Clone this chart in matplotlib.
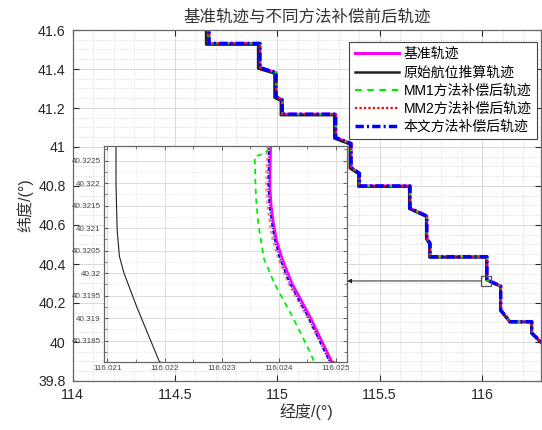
import numpy as np
import matplotlib
matplotlib.use('Agg')
import matplotlib.pyplot as plt
from matplotlib.patches import Rectangle
from matplotlib.ticker import MultipleLocator, FuncFormatter

plt.rcParams['font.family'] = ['Liberation Sans', 'Noto Sans CJK SC', 'DejaVu Sans']

# 轨迹转折点（经度, 纬度），放大框之前的公共部分
track_lon_top = [114.666, 114.666, 114.915, 114.915, 114.994, 114.994, 115.024, 115.024,
                 115.285, 115.285, 115.360, 115.360, 115.401, 115.401, 115.648, 115.648,
                 115.730, 115.730, 115.746, 115.746, 116.0238]
track_lat_top = [41.65, 41.531, 41.531, 41.407, 41.381, 41.258, 41.241, 41.168,
                 41.168, 41.048, 41.018, 40.895, 40.865, 40.800, 40.800, 40.686,
                 40.646, 40.532, 40.506, 40.437, 40.437]
# 放大框之后的部分
track_lon_tail = [116.091, 116.091, 116.137, 116.243, 116.243, 116.293, 116.342]
track_lat_tail = [40.287, 40.164, 40.104, 40.104, 40.046, 39.995, 39.944]

# 原始航位推算轨迹
dr_lon_top = [114.652, 114.652, 114.906, 114.906, 114.986, 114.986, 115.017, 115.017,
              115.278, 115.278, 115.354, 115.354, 115.396, 115.396, 115.644, 115.644,
              115.727, 115.727, 115.743, 115.743, 116.02115]
dr_lat_top = [41.65, 41.525, 41.525, 41.402, 41.377, 41.253, 41.237, 41.163,
              41.163, 41.044, 41.014, 40.891, 40.862, 40.797, 40.797, 40.683,
              40.643, 40.529, 40.503, 40.434, 40.434]
dr_lon_tail = [116.089, 116.089, 116.135, 116.241, 116.241, 116.291, 116.340]
dr_lat_tail = [40.285, 40.162, 40.102, 40.102, 40.044, 39.993, 39.942]

# 放大区域内的细节
corner_lat = [40.32283, 40.32223, 40.32185, 40.32148, 40.32110, 40.32074, 40.32032,
              40.31978, 40.31903, 40.31829, 40.31803]
ref_corner_lon = [116.02386, 116.02385, 116.02385, 116.02387, 116.02391, 116.02396, 116.02406,
                  116.02423, 116.02455, 116.02483, 116.02493]
ours_corner_lon = [116.02383, 116.02382, 116.02382, 116.02384, 116.02388, 116.02393, 116.02402,
                   116.02419, 116.02451, 116.02479, 116.02489]
mm2_corner_lon = [116.02381, 116.02379, 116.02379, 116.02381, 116.02385, 116.02390, 116.02400,
                  116.02417, 116.02450, 116.02480, 116.02491]
dr_corner_lon = [116.02115, 116.02115, 116.02117, 116.02121, 116.02129, 116.02140,
                 116.02151, 116.02163, 116.02177, 116.02191]
dr_corner_lat = [40.32283, 40.32200, 40.32096, 40.32037, 40.32000, 40.31963,
                 40.31926, 40.31889, 40.31846, 40.31803]
mm1_corner_lon = [116.02384, 116.02381, 116.02376, 116.02358, 116.02359, 116.02360,
                  116.02364, 116.02374, 116.02392, 116.02424, 116.02453, 116.02462]
mm1_corner_lat = [40.32283, 40.32274, 40.32266, 40.32259, 40.32207, 40.32170,
                  40.32111, 40.32032, 40.31978, 40.31903, 40.31829, 40.31803]

labels = ['基准轨迹', '原始航位推算轨迹', 'MM1方法补偿后轨迹', 'MM2方法补偿后轨迹', '本文方法补偿后轨迹']

series = [
    (track_lon_top + ref_corner_lon + track_lon_tail, track_lat_top + corner_lat + track_lat_tail),
    (dr_lon_top + dr_corner_lon + dr_lon_tail, dr_lat_top + dr_corner_lat + dr_lat_tail),
    (track_lon_top + mm1_corner_lon + track_lon_tail, track_lat_top + mm1_corner_lat + track_lat_tail),
    (track_lon_top + mm2_corner_lon + track_lon_tail, track_lat_top + corner_lat + track_lat_tail),
    (track_lon_top + ours_corner_lon + track_lon_tail, track_lat_top + corner_lat + track_lat_tail),
]

styles = [
    dict(color='#ff00ff', lw=2.2, ls='-'),
    dict(color='#222222', lw=1.8, ls='-'),
    dict(color='#00ee00', lw=1.6, dashes=(3, 2.5)),
    dict(color='#ff0000', lw=1.6, dashes=(1, 1)),
    dict(color='#0000ff', lw=2.5, dashes=(2.4, 0.9, 0.6, 0.9)),
]
inset_lw = [1.8, 0.8, 1.3, 2.2, 1.2]

fig = plt.figure(figsize=(5.42, 4.30), dpi=100)
ax = fig.add_axes([72.6 / 542, 49 / 430, 468.4 / 542, 351 / 430])

for (lon, lat), st, lab in zip(series, styles, labels):
    ax.plot(lon, lat, label=lab, **st)

ax.set_xlim(114, 116.288)
ax.set_ylim(39.8, 41.6)
ax.xaxis.set_major_locator(MultipleLocator(0.5))
ax.xaxis.set_minor_locator(MultipleLocator(0.1))
ax.yaxis.set_major_locator(MultipleLocator(0.2))
ax.yaxis.set_minor_locator(MultipleLocator(0.05))
ax.xaxis.set_major_formatter(FuncFormatter(lambda v, p: f'{v:g}'))
ax.yaxis.set_major_formatter(FuncFormatter(lambda v, p: f'{round(v, 3):g}'))
ax.grid(True, which='major', color='#d8d8d8', lw=0.7, ls='-')
ax.grid(True, which='minor', color='#cccccc', lw=0.6, ls=(0, (1, 2)))
ax.set_axisbelow(True)
ax.tick_params(which='both', direction='in', top=True, right=True, colors='#262626',
               labelsize=10.2, pad=5)
ax.tick_params(which='major', length=4, width=0.8)
ax.tick_params(which='minor', length=0)
for s in ax.spines.values():
    s.set_color('#666666')
    s.set_linewidth(0.9)

ax.set_title('基准轨迹与不同方法补偿前后轨迹', fontsize=11.9, color='#333333', pad=6)
ax.set_xlabel('经度/(°)', fontsize=11.5, color='#333333', labelpad=1)
ax.set_ylabel('纬度/(°)', fontsize=11.5, color='#333333', labelpad=3)

# 放大框与箭头
ax.add_patch(Rectangle((115.995, 40.287), 0.049, 0.051, fill=False, ec='#555555', lw=0.9, zorder=6))
ax.annotate('', xy=(115.341, 40.313), xytext=(115.995, 40.313),
            arrowprops=dict(arrowstyle='-|>', color='#222222', lw=0.7, mutation_scale=6,
                            shrinkA=0, shrinkB=0), zorder=6)

leg = ax.legend(loc='upper left', bbox_to_anchor=(349.3 / 542, 1 - 41.7 / 430),
                bbox_transform=fig.transFigure, borderaxespad=0, fontsize=10,
                handlelength=3.2, handletextpad=0.3, labelspacing=0.3, borderpad=0.4,
                fancybox=False, framealpha=1, edgecolor='#444444')
leg.get_frame().set_linewidth(0.8)

# 局部放大图
ax2 = fig.add_axes([104 / 542, (430 - 361.7) / 430, 242.7 / 542, 216 / 430])
for (lon, lat), st, lw in zip(series, styles, inset_lw):
    st2 = dict(st)
    st2['lw'] = lw
    if st['color'] == '#ff0000':
        st2['alpha'] = 0.45
    ax2.plot(lon, lat, **st2)
ax2.set_xlim(116.02094, 116.02519)
ax2.set_ylim(40.31803, 40.32283)
ax2.set_xticks([116.021, 116.022, 116.023, 116.024, 116.025])
ax2.set_xticklabels(['116.021', '116.022', '116.023', '116.024', '116.025'])
ax2.xaxis.set_minor_locator(MultipleLocator(0.0005))
inset_yt = [40.3185, 40.319, 40.3195, 40.32, 40.3205, 40.321, 40.3215, 40.322, 40.3225]
ax2.set_yticks(inset_yt)
ax2.set_yticklabels([f'{v:.4f}'.rstrip('0').rstrip('.') for v in inset_yt])
ax2.yaxis.set_minor_locator(MultipleLocator(0.00025))
ax2.grid(True, which='major', color='#d8d8d8', lw=0.6, ls='-')
ax2.grid(True, which='minor', color='#d5d5d5', lw=0.5, ls=(0, (1, 2)))
ax2.set_axisbelow(True)
ax2.tick_params(which='both', direction='in', top=True, right=True, colors='#444444',
                labelsize=5.8, pad=2.5)
ax2.tick_params(which='major', length=3, width=0.6)
ax2.tick_params(which='minor', length=2, width=0.5)
for s in ax2.spines.values():
    s.set_color('#666666')
    s.set_linewidth(0.9)

fig.savefig('out.png', dpi=100)
